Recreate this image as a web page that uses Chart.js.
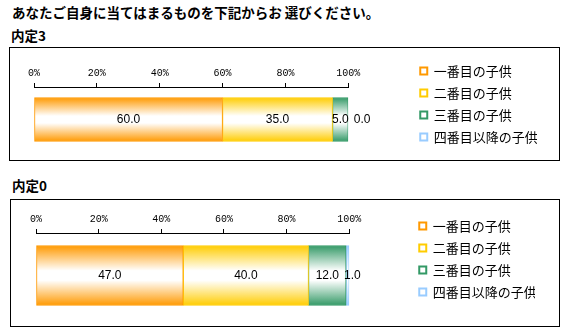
<!DOCTYPE html>
<html><head><meta charset="utf-8">
<script src="https://cdn.jsdelivr.net/npm/chart.js@4/dist/chart.umd.min.js"></script>
<style>
body{margin:0;background:#fff;width:570px;height:335px;position:relative;overflow:hidden;font-family:"Noto Sans CJK JP",sans-serif;}
.t{position:absolute;font-weight:bold;font-size:13.5px;color:#000;white-space:nowrap;line-height:16px;}
.box{position:absolute;border:1px solid #000;box-sizing:border-box;}
.box canvas{position:absolute;left:0;top:0;}
</style></head><body>
<div class="t" style="left:12px;top:4px;">あなたご自身に当てはまるものを下記からお 選びください。</div>
<div class="t" style="left:11px;top:27px;">内定3</div>
<div class="box" style="left:9px;top:47px;width:551px;height:114px;"><canvas id="c1" width="549" height="112"></canvas></div>
<div class="t" style="left:12px;top:177px;">内定0</div>
<div class="box" style="left:10px;top:199px;width:550px;height:128px;"><canvas id="c2" width="548" height="126"></canvas></div>
<script>
const seriesNames = ["一番目の子供","二番目の子供","三番目の子供","四番目以降の子供"];
const seriesColors = ["#FF9900","#FFCC00","#339966","#99CCFF"];
const tickValues = [0,20,40,60,80,100];
const naitei3Values = [60.0,35.0,5.0,0.0];
const naitei0Values = [47.0,40.0,12.0,1.0];

function gradFill(color, thickness){
  return (ctx)=>{
    const chart = ctx.chart;
    const ys = chart.scales && chart.scales.y;
    if(!chart.chartArea || !ys) return color;
    const c = ys.getPixelForValue(0);
    const top = c - thickness/2, bot = c + thickness/2;
    const g = chart.ctx.createLinearGradient(0, top, 0, bot);
    g.addColorStop(0, color);
    g.addColorStop(0.42, "#ffffff");
    g.addColorStop(0.58, "#ffffff");
    g.addColorStop(1, color);
    return g;
  };
}

const labelPlugin = {
  id:'segLabels',
  afterDatasetsDraw(chart){
    const ctx = chart.ctx;
    ctx.save();
    ctx.font = '12px "Liberation Sans", Arial, sans-serif';
    ctx.fillStyle = '#000';
    ctx.textBaseline = 'middle';
    ctx.textAlign = 'left';
    let prevEnd = -Infinity;
    chart.data.datasets.forEach((ds, i)=>{
      const el = chart.getDatasetMeta(i).data[0];
      const v = ds.data[0];
      const txt = v.toFixed(1);
      const w = ctx.measureText(txt).width;
      const cx = (el.x + el.base)/2;
      let x = cx - w/2;
      if(x < prevEnd + 5) x = prevEnd + 5;
      ctx.fillText(txt, x, el.y);
      prevEnd = x + w;
    });
    ctx.restore();
  }
};

function makeChart(id, values, thickness, cfg){
  new Chart(document.getElementById(id), {
    type:'bar',
    data:{
      labels:[''],
      datasets: seriesNames.map((n,i)=>({
        label:n,
        data:[values[i]],
        backgroundColor: gradFill(seriesColors[i], thickness),
        borderColor: seriesColors[i],
        borderWidth: 1,
        borderSkipped: false,
        barThickness: thickness
      }))
    },
    options:{
      indexAxis:'y',
      responsive:false,
      animation:false,
      events:[],
      layout:{padding:{top:0,bottom:cfg.padBottom,left:cfg.left,right:cfg.right}},
      scales:{
        x:{
          position:'top', stacked:true, min:0, max:100,
          afterBuildTicks:(s)=>{ s.ticks = tickValues.map(v=>({value:v})); },
          afterFit:(s)=>{ s.height = cfg.top; },
          ticks:{ callback:(v)=>v+'%', font:{family:'"Liberation Mono", monospace', size:10}, color:'#000', padding:4, maxRotation:0 },
          grid:{ drawOnChartArea:false, drawTicks:true, tickLength:4, color:'#000' },
          border:{ color:'#000', width:1 }
        },
        xb:{
          type:'linear', position:'bottom', min:0, max:100,
          ticks:{display:false}, grid:{display:false}, border:{display:false},
          afterFit:(s)=>{ s.height = cfg.bottom; }
        },
        y:{
          position:'right', stacked:true,
          ticks:{display:false},
          grid:{display:false},
          border:{display:false},
          afterFit:(s)=>{ s.width = cfg.gap; }
        }
      },
      plugins:{
        legend:{
          position:'right',
          labels:{
            boxWidth:7, boxHeight:7, padding:9, color:'#000',
            font:{family:'"Noto Sans CJK JP", sans-serif', size:13},
            generateLabels:(chart)=>chart.data.datasets.map((d,i)=>({
              text:d.label, fillStyle:'#ffffff', strokeStyle:seriesColors[i], lineWidth:2, datasetIndex:i, hidden:false
            }))
          }
        },
        tooltip:{enabled:false}
      }
    },
    plugins:[labelPlugin]
  });
}
makeChart('c1', naitei3Values, 44, {top:39, bottom:8, padBottom:0, left:24, right:22, gap:63});
makeChart('c2', naitei0Values, 60, {top:33, bottom:0, padBottom:8, left:25, right:24, gap:61});
</script>
</body></html>
